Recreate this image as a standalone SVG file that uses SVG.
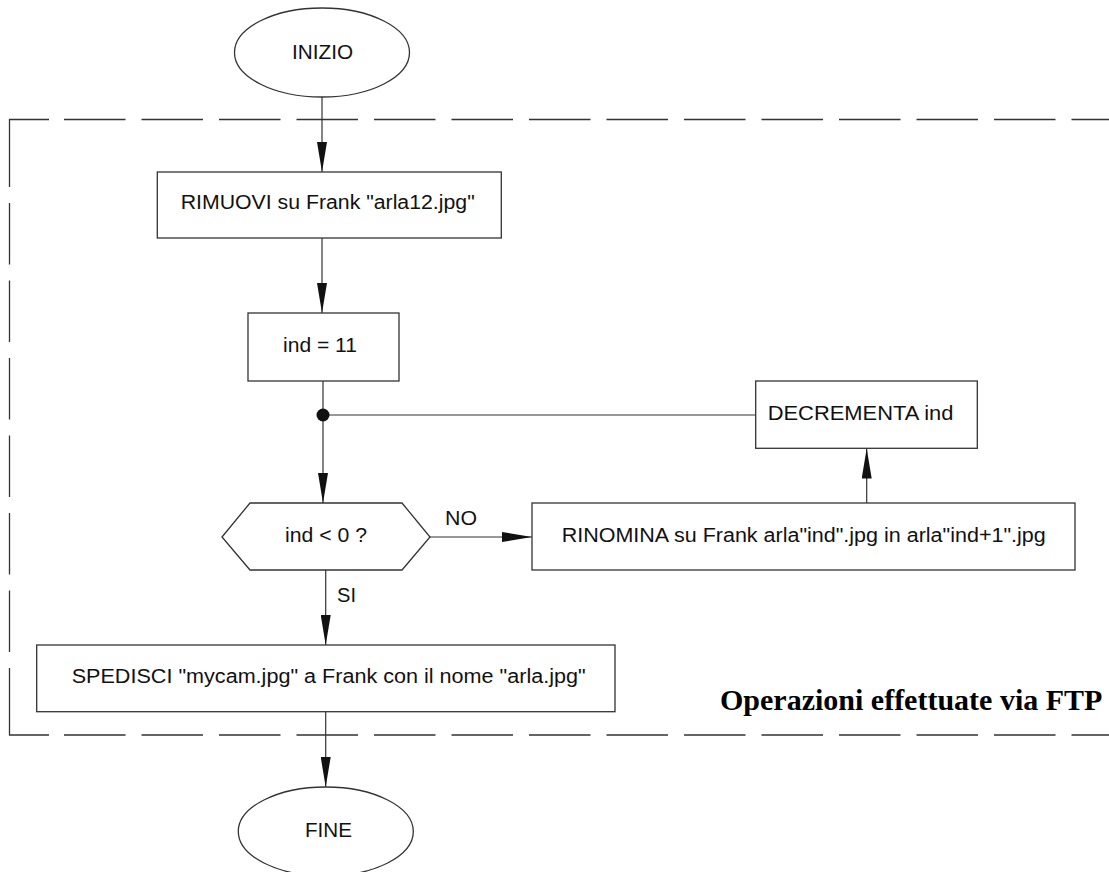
<svg xmlns="http://www.w3.org/2000/svg" width="1109" height="872" viewBox="0 0 1109 872">
<style>
.shape{fill:#fff;stroke:#333;stroke-width:1.3}
.conn{fill:none;stroke:#333;stroke-width:1.2}
.frame{fill:none;stroke:#333;stroke-width:1.3}
.dash{stroke-dasharray:61.5 16}
.t{font-family:"Liberation Sans",Arial,sans-serif;font-size:20px;fill:#111}
.title{font-family:"Liberation Serif","Times New Roman",serif;font-size:30px;font-weight:bold;fill:#000}
</style>
<defs>
<marker id="arr" viewBox="0 0 30 10" refX="30" refY="5" markerWidth="30" markerHeight="10" markerUnits="userSpaceOnUse" orient="auto">
<path d="M0,0 L30,5 L0,10 Z" fill="#111"/>
</marker>
</defs>
<g id="frame">
<path class="frame" d="M9.5 187 V119.5 H49"/>
<path class="frame dash" d="M64 119.5 H1109"/>
<path class="frame dash" d="M9.5 203 V652"/>
<path class="frame" d="M9.5 668 V735 H49"/>
<path class="frame dash" d="M64 735 H1109"/>
<text class="title" x="720" y="710">Operazioni effettuate via FTP</text>
</g>
<g id="connectors">
<path class="conn" d="M322 97 V172" marker-end="url(#arr)"/>
<path class="conn" d="M322 238 V313" marker-end="url(#arr)"/>
<path class="conn" d="M323 381 V503" marker-end="url(#arr)"/>
<path class="conn" d="M755.7 415 H323"/>
<circle cx="323" cy="415" r="6.5" fill="#111"/>
<path class="conn" d="M430 537 H532" marker-end="url(#arr)"/>
<text class="t" x="445" y="525" textLength="32" lengthAdjust="spacingAndGlyphs">NO</text>
<path class="conn" d="M866.7 503 V448.5" marker-end="url(#arr)"/>
<path class="conn" d="M325.7 570 V645" marker-end="url(#arr)"/>
<text class="t" x="337" y="602" textLength="19" lengthAdjust="spacingAndGlyphs">SI</text>
<path class="conn" d="M325.7 712 V787" marker-end="url(#arr)"/>
</g>
<g id="inizio">
<ellipse class="shape" cx="322" cy="52.5" rx="87.5" ry="44.5"/>
<text class="t" x="292" y="59" textLength="61" lengthAdjust="spacingAndGlyphs">INIZIO</text>
</g>
<g id="rimuovi">
<rect class="shape" x="157.3" y="172" width="344" height="66"/>
<text class="t" x="180.7" y="209.3" textLength="294" lengthAdjust="spacingAndGlyphs">RIMUOVI su Frank "arla12.jpg"</text>
</g>
<g id="ind11">
<rect class="shape" x="248" y="313" width="151" height="68"/>
<text class="t" x="283" y="352" textLength="74" lengthAdjust="spacingAndGlyphs">ind = 11</text>
</g>
<g id="decrementa">
<rect class="shape" x="755.7" y="381" width="221.6" height="67.3"/>
<text class="t" x="767.7" y="420" textLength="185.7" lengthAdjust="spacingAndGlyphs">DECREMENTA ind</text>
</g>
<g id="decisione">
<polygon class="shape" points="222,537 250,503 402,503 430,537 402,570 250,570"/>
<text class="t" x="285" y="542" textLength="82" lengthAdjust="spacingAndGlyphs">ind &lt; 0 ?</text>
</g>
<g id="rinomina">
<rect class="shape" x="532" y="503" width="543" height="67"/>
<text class="t" x="561.7" y="541.7" textLength="484" lengthAdjust="spacingAndGlyphs">RINOMINA su Frank arla"ind".jpg in arla"ind+1".jpg</text>
</g>
<g id="spedisci">
<rect class="shape" x="36.7" y="645" width="578.3" height="66.7"/>
<text class="t" x="71.7" y="683.3" textLength="514" lengthAdjust="spacingAndGlyphs">SPEDISCI "mycam.jpg" a Frank con il nome "arla.jpg"</text>
</g>
<g id="fine">
<ellipse class="shape" cx="325.8" cy="831.5" rx="87.5" ry="44.5"/>
<text class="t" x="305" y="837" textLength="47" lengthAdjust="spacingAndGlyphs">FINE</text>
</g>
</svg>
